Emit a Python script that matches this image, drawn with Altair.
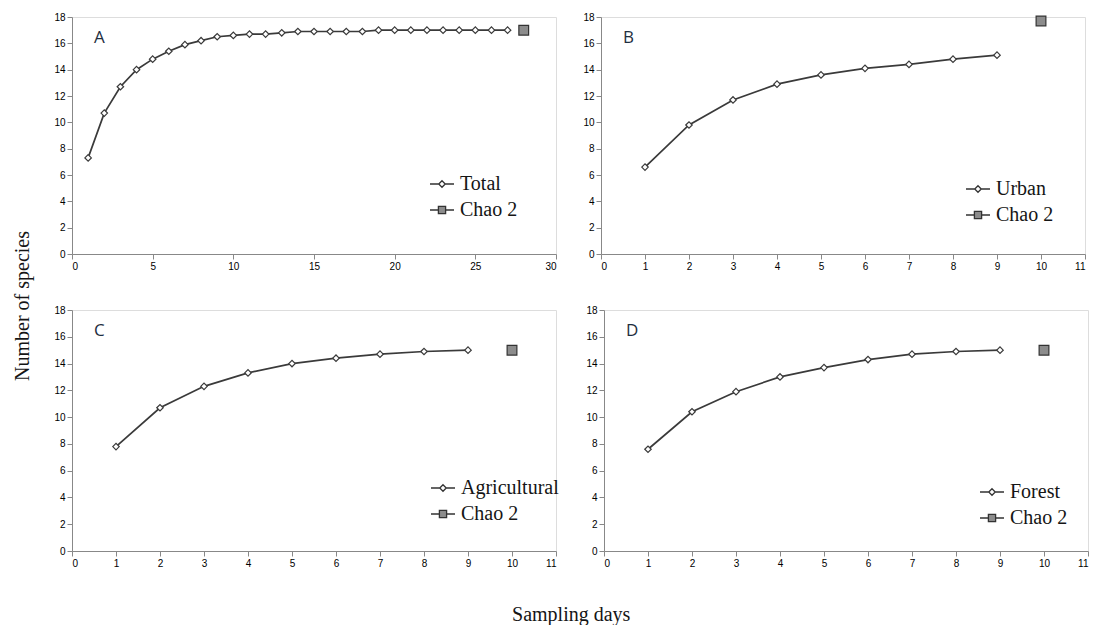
import altair as alt
import pandas as pd

# ---------------- data ----------------
days_total = list(range(1, 28))
species_total = [7.3, 10.7, 12.7, 14.0, 14.8, 15.4, 15.9, 16.2, 16.5, 16.6,
                 16.7, 16.7, 16.8, 16.9, 16.9, 16.9, 16.9, 16.9, 17.0, 17.0,
                 17.0, 17.0, 17.0, 17.0, 17.0, 17.0, 17.0]
chao_total_day = [28]
chao_total = [17.0]

days_site = [1, 2, 3, 4, 5, 6, 7, 8, 9]
species_urban = [6.6, 9.8, 11.7, 12.9, 13.6, 14.1, 14.4, 14.8, 15.1]
species_agri = [7.8, 10.7, 12.3, 13.3, 14.0, 14.4, 14.7, 14.9, 15.0]
species_forest = [7.6, 10.4, 11.9, 13.0, 13.7, 14.3, 14.7, 14.9, 15.0]
chao_site_day = [10]
chao_urban = [17.7]
chao_agri = [15.0]
chao_forest = [15.0]

y_ticks = [0, 2, 4, 6, 8, 10, 12, 14, 16, 18]
x_ticks_total = [0, 5, 10, 15, 20, 25, 30]
x_ticks_site = [0, 1, 2, 3, 4, 5, 6, 7, 8, 9, 10, 11]

# ---------------- style ----------------
LINE = "#3a3a3a"
CHAO_FILL = "#8c8c8c"
SERIF = "Liberation Serif"
DIAMOND_PATH = "M-1,0L-0.27,0M0.27,0L1,0M0,-0.27L0.27,0L0,0.27L-0.27,0Z"
SQUARE_PATH = "M-1,0L-0.3,0M0.3,0L1,0M-0.3,-0.3L0.3,-0.3L0.3,0.3L-0.3,0.3Z"


def panel(letter, name, days, values, cday, cval, xmax, xticks, w, h, lx, ly):
    df = pd.DataFrame({"day": days, "species": values})
    cdf = pd.DataFrame({"day": cday, "species": cval})
    x = alt.X("day:Q", scale=alt.Scale(domain=[0, xmax], nice=False, zero=True),
              axis=alt.Axis(values=xticks, title=None, grid=False))
    y = alt.Y("species:Q", scale=alt.Scale(domain=[0, 18], nice=False),
              axis=alt.Axis(values=y_ticks, title=None, grid=False))
    line = alt.Chart(df).mark_line(color=LINE, strokeWidth=1.7).encode(x=x, y=y)
    pts = alt.Chart(df).mark_point(shape="diamond", filled=True, fill="white",
                                   stroke=LINE, strokeWidth=1.2, size=42,
                                   opacity=1).encode(x=x, y=y)
    chao = alt.Chart(cdf).mark_point(shape="square", filled=True, fill=CHAO_FILL,
                                     stroke="#333333", strokeWidth=1.2, size=95,
                                     opacity=1).encode(x=x, y=y)
    leg = alt.Legend(orient="none", legendX=lx, legendY=ly, title=None,
                     labelFont=SERIF, labelFontSize=20, labelColor="#151515",
                     symbolSize=576, symbolStrokeColor="#333333",
                     symbolStrokeWidth=1.3, rowPadding=3, labelOffset=5, padding=0)
    dom = [name, "Chao 2"]
    legend_df = pd.DataFrame({"series": dom})
    legend_layer = alt.Chart(legend_df).transform_filter("false").mark_point(
        filled=True, strokeWidth=1.3, opacity=1).encode(
        shape=alt.Shape("series:N", scale=alt.Scale(domain=dom,
                                                     range=[DIAMOND_PATH, SQUARE_PATH]),
                        legend=leg),
        fill=alt.Fill("series:N", scale=alt.Scale(domain=dom,
                                                   range=["white", CHAO_FILL]),
                      legend=leg),
        stroke=alt.Stroke("series:N", scale=alt.Scale(domain=dom,
                                                       range=["#333333", "#333333"]),
                          legend=leg),
    )
    label = alt.Chart(pd.DataFrame({"letter": [letter]})).mark_text(
        align="left", baseline="alphabetic", font="Open Sans", fontSize=17,
        color="#1e2e40").encode(text="letter:N", x=alt.value(22), y=alt.value(26))
    return alt.layer(line, pts, chao, legend_layer, label).properties(width=w, height=h)


pA = panel("A", "Total", days_total, species_total, chao_total_day, chao_total,
           30, x_ticks_total, 484, 237, 357, 154)
pB = panel("B", "Urban", days_site, species_urban, chao_site_day, chao_urban,
           11, x_ticks_site, 484, 237, 364, 159)
pC = panel("C", "Agricultural", days_site, species_agri, chao_site_day, chao_agri,
           11, x_ticks_site, 484, 241, 358, 165)
pD = panel("D", "Forest", days_site, species_forest, chao_site_day, chao_forest,
           11, x_ticks_site, 484, 241, 375, 169)

res = dict(x="independent", y="independent", shape="independent",
           fill="independent", stroke="independent")
lres = dict(shape="independent", fill="independent", stroke="independent")

rowAB = alt.hconcat(pA, pB, spacing=25).resolve_scale(**res).resolve_legend(**lres)
rowCD = alt.hconcat(pC, pD, spacing=25).resolve_scale(**res).resolve_legend(**lres)

grid = alt.vconcat(rowAB, rowCD, spacing=32,
                   title=alt.TitleParams("Sampling days", orient="bottom", anchor="middle",
                                         font=SERIF, fontSize=20, fontWeight="normal",
                                         color="#151515", offset=36)
                   ).resolve_scale(**res).resolve_legend(**lres)

chart = alt.hconcat(grid,
                    title=alt.TitleParams("Number of species", orient="left", anchor="middle",
                                          font=SERIF, fontSize=20, fontWeight="normal",
                                          color="#151515", offset=20, dx=12)
                    ).resolve_scale(**res).resolve_legend(**lres).configure_view(
    stroke=None).configure_axis(
    grid=False, domainColor="#a3b5c4", tickColor="#a3b5c4", tickSize=4,
    labelColor="#5b6c7c", labelFont="Open Sans", labelFontSize=10,
    labelFontWeight="bold", domainWidth=1.2
).configure(padding={"left": 5, "top": 3, "right": 0, "bottom": 0})

chart.save("out.html", embed_options={"renderer": "svg", "actions": False})
